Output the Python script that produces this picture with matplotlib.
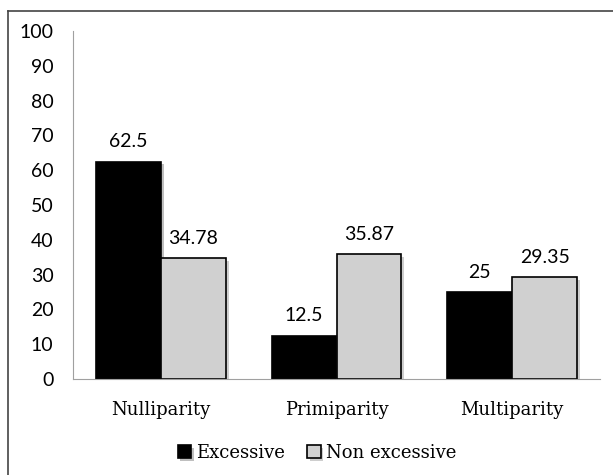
import matplotlib
matplotlib.use("Agg")
import matplotlib.pyplot as plt
import matplotlib.patheffects as pe
from matplotlib.lines import Line2D
import numpy as np

categories = ["Nulliparity", "Primiparity", "Multiparity"]
excessive = [62.5, 12.5, 25]
non_excessive = [34.78, 35.87, 29.35]
excessive_labels = ["62.5", "12.5", "25"]
non_excessive_labels = ["34.78", "35.87", "29.35"]
y_ticks = [0, 10, 20, 30, 40, 50, 60, 70, 80, 90, 100]

num_font = "Lato"
cat_font = "DejaVu Serif"

fig = plt.figure(figsize=(6.13, 4.75), dpi=100)
ax = fig.add_axes([73 / 613, 96 / 475, 527 / 613, 348 / 475])

x = np.arange(len(categories))
w = 0.37
shadow = [pe.SimplePatchShadow(offset=(2, -2), alpha=0.25), pe.Normal()]
b1 = ax.bar(x - w / 2, excessive, w, color="black", edgecolor="black", linewidth=1.2,
            label="Excessive", path_effects=shadow)
b2 = ax.bar(x + w / 2, non_excessive, w, color="#d0d0d0", edgecolor="black", linewidth=1.2,
            label="Non excessive", path_effects=shadow)

for bars, labels in [(b1, excessive_labels), (b2, non_excessive_labels)]:
    for bar, lab in zip(bars, labels):
        ax.annotate(lab, (bar.get_x() + bar.get_width() / 2, bar.get_height()),
                    xytext=(0, 8), textcoords="offset points", ha="center", va="bottom",
                    fontsize=14, family=num_font)

ax.set_xlim(-0.5, 2.5)
ax.set_ylim(0, 100)
ax.set_yticks(y_ticks)
ax.set_yticklabels([str(t) for t in y_ticks], family=num_font, fontsize=14)
ax.set_xticks(x)
ax.set_xticklabels(categories, family=cat_font, fontsize=13)
ax.tick_params(axis="both", length=0)
ax.tick_params(axis="y", pad=14)
ax.tick_params(axis="x", pad=16)
for s in ["top", "right"]:
    ax.spines[s].set_visible(False)
ax.spines["left"].set_color("#a0a0a0")
ax.spines["bottom"].set_color("#a0a0a0")

fig.legend(handles=[b1, b2], loc="center", bbox_to_anchor=(0.517, 0.046), ncol=2,
           frameon=False, prop={"family": cat_font, "size": 13},
           handlelength=0.75, handleheight=0.75, handletextpad=0.3, columnspacing=1.2)

# outer frame: top and left edges only
fig.add_artist(Line2D([8 / 613, 1], [1 - 11 / 475, 1 - 11 / 475], transform=fig.transFigure,
                      color="#444444", linewidth=1.2))
fig.add_artist(Line2D([8 / 613, 8 / 613], [0, 1 - 11 / 475], transform=fig.transFigure,
                      color="#444444", linewidth=1.2))

fig.savefig("out.png", dpi=100)
